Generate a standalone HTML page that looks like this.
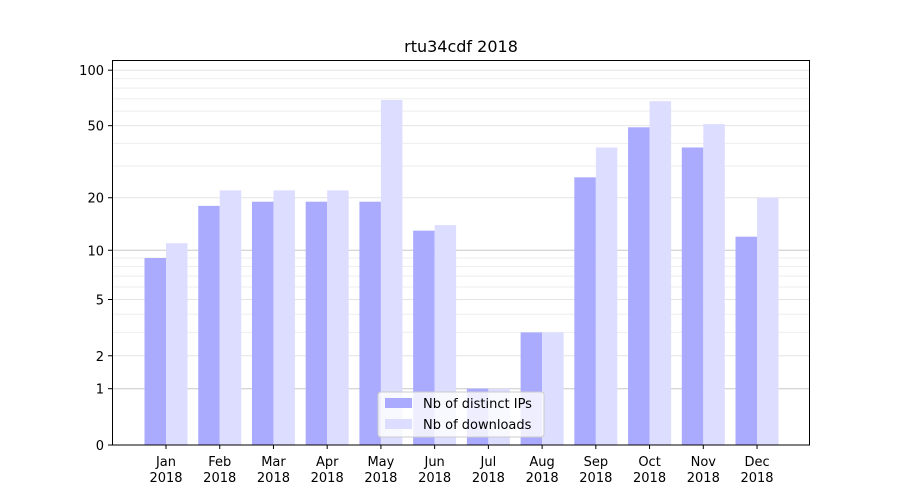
<!DOCTYPE html>
<html><head><style>body{margin:0;background:#fff}svg{display:block;font-family:"DejaVu Sans","Liberation Sans",sans-serif}</style></head><body>
<svg width="900" height="500" xmlns="http://www.w3.org/2000/svg">
<rect width="900" height="500" fill="#fff"/>
<text x="461" y="52" font-size="16" text-anchor="middle">rtu34cdf 2018</text>
<g id="grid"></g>
<g id="bars"></g>
<rect x="112.5" y="60.5" width="697" height="384.5" fill="none" stroke="#000" stroke-width="1"/>
<g id="ticks" font-size="13"></g>
<g>
<rect x="378" y="392" width="166" height="45" rx="3" fill="#fff" fill-opacity="0.8" stroke="#ccc"/>
<rect x="385" y="398" width="27" height="10" fill="#aaaaff"/>
<text x="423" y="408" font-size="13">Nb of distinct IPs</text>
<rect x="385" y="419" width="27" height="10" fill="#ddddff"/>
<text x="423" y="429" font-size="13">Nb of downloads</text>
</g>
<script>
function Y(v){return 445-187*Math.log10(1+v);}
var ns="http://www.w3.org/2000/svg";
function el(t,a,p,txt){var e=document.createElementNS(ns,t);for(var k in a)e.setAttribute(k,a[k]);if(txt!=null)e.textContent=txt;document.getElementById(p).appendChild(e);return e;}
var minors=[3,4,6,7,8,9,30,40,60,70,80,90];
minors.forEach(function(v){var y=Y(v);el('line',{x1:113,x2:810,y1:y,y2:y,stroke:'#eee','stroke-width':1},'grid');});
[2,5,20,50,100].forEach(function(v){var y=Y(v);el('line',{x1:113,x2:810,y1:y,y2:y,stroke:'#e4e4e4','stroke-width':1},'grid');});
[1,10].forEach(function(v){var y=Y(v);el('line',{x1:113,x2:810,y1:y,y2:y,stroke:'#c8c8c8','stroke-width':1},'grid');});
var a=[9,18,19,19,19,13,1,3,26,49,38,12],b=[11,22,22,22,69,14,1,3,38,68,51,20];
var m=['Jan','Feb','Mar','Apr','May','Jun','Jul','Aug','Sep','Oct','Nov','Dec'];
for(var i=0;i<12;i++){var c=166+i*53.73;
el('rect',{x:c-21.5,y:Y(a[i]),width:21.5,height:445-Y(a[i]),fill:'#aaaaff'},'bars');
el('rect',{x:c,y:Y(b[i]),width:21.5,height:445-Y(b[i]),fill:'#ddddff'},'bars');
el('line',{x1:c,x2:c,y1:445,y2:449,stroke:'#000'},'ticks');
el('text',{x:c,y:466,'text-anchor':'middle'},'ticks',m[i]);
el('text',{x:c,y:482,'text-anchor':'middle'},'ticks','2018');}
[0,1,2,5,10,20,50,100].forEach(function(v){var y=Y(v);el('line',{x1:108,x2:112,y1:y,y2:y,stroke:'#000'},'ticks');el('text',{x:104,y:y+5,'text-anchor':'end'},'ticks',String(v));});
</script>
</svg>
</body></html>
